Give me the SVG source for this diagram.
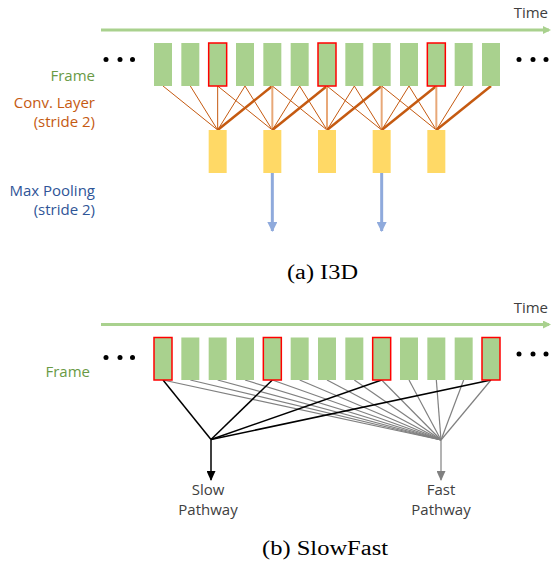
<svg xmlns="http://www.w3.org/2000/svg" width="553" height="569" viewBox="0 0 553 569">
<style>
.frame{fill:#A9D18E}
.red{fill:#A9D18E;stroke:#FF0000;stroke-width:1.5}
.pool{fill:#FFD966}
.time{stroke:#A9D18E;stroke-width:3;fill:none}
.lbl{font-family:"Open Sans","Noto Sans",sans-serif;font-size:15px}
.cap{font-family:"Liberation Serif",serif;font-size:20px;fill:#000}
.conv{stroke:#C55A11;stroke-width:1;fill:none}
.convT{stroke:#C55A11;stroke-width:2.5;fill:none}
.convV{stroke:#E8A878;stroke-width:2;fill:none}
.blue{stroke:#8FAADC;stroke-width:3;fill:none}
.slow{stroke:#000;stroke-width:1.5;fill:none}
.fast{stroke:#808080;stroke-width:1.2;fill:none}
.dot{fill:#000}
</style>
<defs>
<marker id="ahG" markerWidth="8" markerHeight="8" refX="6" refY="4" orient="auto" markerUnits="userSpaceOnUse"><path d="M0,0 L8,4 L0,8 Z" fill="#A9D18E"/></marker>
<marker id="ahB" markerWidth="10" markerHeight="10" refX="9" refY="5" orient="auto" markerUnits="userSpaceOnUse"><path d="M0,0 L10,5 L0,10 Z" fill="#8FAADC"/></marker>
<marker id="ahK" markerWidth="10" markerHeight="9" refX="9" refY="4.5" orient="auto" markerUnits="userSpaceOnUse"><path d="M0,0 L10,4.5 L0,9 Z" fill="#000"/></marker>
<marker id="ahGr" markerWidth="10" markerHeight="9" refX="9" refY="4.5" orient="auto" markerUnits="userSpaceOnUse"><path d="M0,0 L10,4.5 L0,9 Z" fill="#808080"/></marker>
</defs>

<!-- Panel (a) I3D -->
<g id="a-time">
<line class="time" x1="101" y1="30" x2="549" y2="30" marker-end="url(#ahG)"/>
<text class="lbl" x="548" y="18" text-anchor="end" fill="#404040">Time</text>
</g>
<g id="a-dots-left"><circle class="dot" cx="106" cy="59.5" r="2.5"/><circle class="dot" cx="120" cy="59.5" r="2.5"/><circle class="dot" cx="132.5" cy="59.5" r="2.5"/></g>
<g id="a-dots-right"><circle class="dot" cx="519" cy="59.5" r="2.5"/><circle class="dot" cx="533" cy="59.5" r="2.5"/><circle class="dot" cx="546" cy="59.5" r="2.5"/></g>
<g id="a-labels">
<text class="lbl" x="95" y="81" text-anchor="end" fill="#6A9A45">Frame</text>
<text class="lbl" x="95" y="108" text-anchor="end" fill="#C55A11">Conv. Layer</text>
<text class="lbl" x="95" y="127" text-anchor="end" fill="#C55A11">(stride 2)</text>
<text class="lbl" x="95" y="196" text-anchor="end" fill="#2F5597">Max Pooling</text>
<text class="lbl" x="95" y="215" text-anchor="end" fill="#2F5597">(stride 2)</text>
</g>
<g id="a-connectors">
<line class="conv" x1="163" y1="86" x2="217.67" y2="130"/>
<line class="conv" x1="190.33" y1="86" x2="217.67" y2="130"/>
<line class="conv" x1="217.67" y1="86" x2="217.67" y2="130"/>
<line class="conv" x1="245" y1="86" x2="217.67" y2="130"/>
<line class="convT" x1="272.33" y1="86" x2="217.67" y2="130"/>
<line class="conv" x1="217.67" y1="86" x2="272.33" y2="130"/>
<line class="conv" x1="245" y1="86" x2="272.33" y2="130"/>
<line class="convV" x1="272.33" y1="86" x2="272.33" y2="130"/>
<line class="conv" x1="299.67" y1="86" x2="272.33" y2="130"/>
<line class="convT" x1="327" y1="86" x2="272.33" y2="130"/>
<line class="conv" x1="272.33" y1="86" x2="327" y2="130"/>
<line class="conv" x1="299.67" y1="86" x2="327" y2="130"/>
<line class="convV" x1="327" y1="86" x2="327" y2="130"/>
<line class="conv" x1="354.33" y1="86" x2="327" y2="130"/>
<line class="convT" x1="381.67" y1="86" x2="327" y2="130"/>
<line class="conv" x1="327" y1="86" x2="381.67" y2="130"/>
<line class="conv" x1="354.33" y1="86" x2="381.67" y2="130"/>
<line class="convV" x1="381.67" y1="86" x2="381.67" y2="130"/>
<line class="conv" x1="409" y1="86" x2="381.67" y2="130"/>
<line class="convT" x1="436.33" y1="86" x2="381.67" y2="130"/>
<line class="conv" x1="381.67" y1="86" x2="436.33" y2="130"/>
<line class="conv" x1="409" y1="86" x2="436.33" y2="130"/>
<line class="convV" x1="436.33" y1="86" x2="436.33" y2="130"/>
<line class="conv" x1="463.67" y1="86" x2="436.33" y2="130"/>
<line class="convT" x1="491" y1="86" x2="436.33" y2="130"/>
<line class="blue" x1="272.33" y1="173" x2="272.33" y2="231" marker-end="url(#ahB)"/>
<line class="blue" x1="381.67" y1="173" x2="381.67" y2="231" marker-end="url(#ahB)"/>
</g>
<g id="a-frames">
<rect class="frame" x="154" y="43" width="18" height="43"/>
<rect class="frame" x="181.33" y="43" width="18" height="43"/>
<rect class="red" x="208.67" y="43" width="18" height="43"/>
<rect class="frame" x="236" y="43" width="18" height="43"/>
<rect class="frame" x="263.33" y="43" width="18" height="43"/>
<rect class="frame" x="290.67" y="43" width="18" height="43"/>
<rect class="red" x="318" y="43" width="18" height="43"/>
<rect class="frame" x="345.33" y="43" width="18" height="43"/>
<rect class="frame" x="372.67" y="43" width="18" height="43"/>
<rect class="frame" x="400" y="43" width="18" height="43"/>
<rect class="red" x="427.33" y="43" width="18" height="43"/>
<rect class="frame" x="454.67" y="43" width="18" height="43"/>
<rect class="frame" x="482" y="43" width="18" height="43"/>
</g>
<g id="a-pool">
<rect class="pool" x="208.67" y="130" width="18" height="43"/>
<rect class="pool" x="263.33" y="130" width="18" height="43"/>
<rect class="pool" x="318" y="130" width="18" height="43"/>
<rect class="pool" x="372.67" y="130" width="18" height="43"/>
<rect class="pool" x="427.33" y="130" width="18" height="43"/>
</g>
<text id="cap-a" class="cap" x="287" y="279" textLength="71" lengthAdjust="spacingAndGlyphs">(a) I3D</text>

<!-- Panel (b) SlowFast -->
<g id="b-time">
<line class="time" x1="101" y1="324.5" x2="549" y2="324.5" marker-end="url(#ahG)"/>
<text class="lbl" x="548" y="313" text-anchor="end" fill="#404040">Time</text>
</g>
<g id="b-dots-left"><circle class="dot" cx="106" cy="357.5" r="2.5"/><circle class="dot" cx="120" cy="357.5" r="2.5"/><circle class="dot" cx="132.5" cy="357.5" r="2.5"/></g>
<g id="b-dots-right"><circle class="dot" cx="519" cy="354" r="2.5"/><circle class="dot" cx="533" cy="354" r="2.5"/><circle class="dot" cx="546" cy="354" r="2.5"/></g>
<g id="b-labels">
<text class="lbl" x="90" y="377" text-anchor="end" fill="#6A9A45">Frame</text>
</g>
<g id="b-connectors">
<line class="fast" x1="163" y1="380" x2="441" y2="440"/>
<line class="fast" x1="190.33" y1="380" x2="441" y2="440"/>
<line class="fast" x1="217.67" y1="380" x2="441" y2="440"/>
<line class="fast" x1="245" y1="380" x2="441" y2="440"/>
<line class="fast" x1="272.33" y1="380" x2="441" y2="440"/>
<line class="fast" x1="299.67" y1="380" x2="441" y2="440"/>
<line class="fast" x1="327" y1="380" x2="441" y2="440"/>
<line class="fast" x1="354.33" y1="380" x2="441" y2="440"/>
<line class="fast" x1="381.67" y1="380" x2="441" y2="440"/>
<line class="fast" x1="409" y1="380" x2="441" y2="440"/>
<line class="fast" x1="436.33" y1="380" x2="441" y2="440"/>
<line class="fast" x1="463.67" y1="380" x2="441" y2="440"/>
<line class="fast" x1="491" y1="380" x2="441" y2="440"/>
<line class="fast" x1="441" y1="440" x2="441" y2="480" marker-end="url(#ahGr)"/>
<line class="slow" x1="163" y1="380" x2="211" y2="439.5"/>
<line class="slow" x1="272.33" y1="380" x2="211" y2="439.5"/>
<line class="slow" x1="381.67" y1="380" x2="211" y2="439.5"/>
<line class="slow" x1="491" y1="380" x2="211" y2="439.5"/>
<line class="slow" x1="211" y1="439.5" x2="211" y2="480" marker-end="url(#ahK)"/>
</g>
<g id="b-frames">
<rect class="red" x="154" y="337.5" width="18" height="42.5"/>
<rect class="frame" x="181.33" y="337.5" width="18" height="42.5"/>
<rect class="frame" x="208.67" y="337.5" width="18" height="42.5"/>
<rect class="frame" x="236" y="337.5" width="18" height="42.5"/>
<rect class="red" x="263.33" y="337.5" width="18" height="42.5"/>
<rect class="frame" x="290.67" y="337.5" width="18" height="42.5"/>
<rect class="frame" x="318" y="337.5" width="18" height="42.5"/>
<rect class="frame" x="345.33" y="337.5" width="18" height="42.5"/>
<rect class="red" x="372.67" y="337.5" width="18" height="42.5"/>
<rect class="frame" x="400" y="337.5" width="18" height="42.5"/>
<rect class="frame" x="427.33" y="337.5" width="18" height="42.5"/>
<rect class="frame" x="454.67" y="337.5" width="18" height="42.5"/>
<rect class="red" x="482" y="337.5" width="18" height="42.5"/>
</g>
<g id="slow-pathway">
<text class="lbl" x="208" y="495" text-anchor="middle" fill="#404040">Slow</text>
<text class="lbl" x="208" y="515" text-anchor="middle" fill="#404040">Pathway</text>
</g>
<g id="fast-pathway">
<text class="lbl" x="441" y="495" text-anchor="middle" fill="#404040">Fast</text>
<text class="lbl" x="441" y="515" text-anchor="middle" fill="#404040">Pathway</text>
</g>
<text id="cap-b" class="cap" x="262" y="555" textLength="126" lengthAdjust="spacingAndGlyphs">(b) SlowFast</text>
</svg>
